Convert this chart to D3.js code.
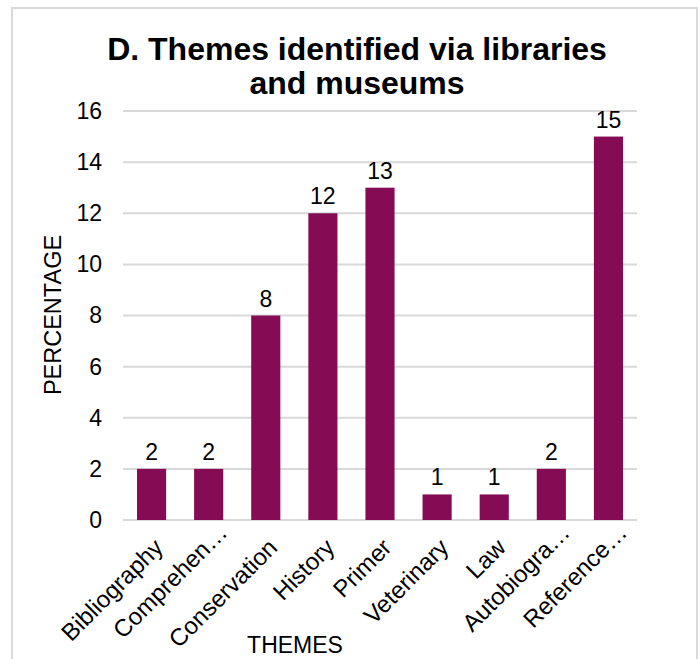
<!DOCTYPE html>
<html>
<head>
<meta charset="utf-8">
<script src="https://cdn.jsdelivr.net/npm/d3@7"></script>
<style>
  html, body { margin: 0; padding: 0; background: #fff; }
  svg { display: block; font-family: "Liberation Sans", Arial, sans-serif; }
</style>
</head>
<body>
<svg id="chart" width="700" height="659"></svg>
<script>
// Themes and their percentages
const categories = ["Bibliography", "Comprehen\u2026", "Conservation", "History", "Primer",
                    "Veterinary", "Law", "Autobiogra\u2026", "Reference\u2026"];
const values = [2, 2, 8, 12, 13, 1, 1, 2, 15];
const yTicks = [0, 2, 4, 6, 8, 10, 12, 14, 16];
const titleLines = ["D. Themes identified via libraries", "and museums"];

const svg = d3.select("#chart");
const W = 700, H = 659;
const margin = { top: 111, right: 63, bottom: 139, left: 123 };
const innerW = W - margin.left - margin.right;
const innerH = H - margin.top - margin.bottom;
const FS = 23;

// chart area frame
svg.append("rect")
  .attr("x", 12).attr("y", 8)
  .attr("width", 685).attr("height", 670)
  .attr("fill", "#fff")
  .attr("stroke", "#d9d9d9").attr("stroke-width", 2);

const x = d3.scaleBand().domain(categories).range([0, innerW])
  .paddingInner(0.49).paddingOuter(0.245);
const y = d3.scaleLinear().domain([0, 16]).range([innerH, 0]);

const g = svg.append("g").attr("transform", `translate(${margin.left},${margin.top})`);

// gridlines
g.append("g")
  .selectAll("line").data(yTicks).join("line")
  .attr("x1", 0).attr("x2", innerW)
  .attr("y1", d => y(d)).attr("y2", d => y(d))
  .attr("stroke", "#d9d9d9").attr("stroke-width", 2);

// y axis labels
const yAxis = d3.axisLeft(y).tickValues(yTicks).tickSize(0).tickPadding(21);
g.append("g").call(yAxis)
  .call(s => s.select(".domain").remove())
  .selectAll("text")
  .attr("font-size", FS).attr("fill", "#000")
  .attr("font-family", "Liberation Sans, Arial, sans-serif");

// bars
g.append("g").selectAll("rect").data(values).join("rect")
  .attr("x", (d, i) => x(categories[i]))
  .attr("y", d => y(d))
  .attr("width", x.bandwidth())
  .attr("height", d => innerH - y(d))
  .attr("fill", "#850b55");

// value labels
g.append("g").selectAll("text").data(values).join("text")
  .attr("x", (d, i) => x(categories[i]) + x.bandwidth() / 2)
  .attr("y", d => y(d) - 9)
  .attr("text-anchor", "middle")
  .attr("font-size", FS).attr("fill", "#000")
  .text(d => d);

// x axis labels, rotated; truncated labels sit a little further out
const xAxis = d3.axisBottom(x).tickSize(0).tickPadding(0);
g.append("g").attr("transform", `translate(0,${innerH})`).call(xAxis)
  .call(s => s.select(".domain").remove())
  .selectAll("text")
  .attr("font-size", 24).attr("fill", "#000")
  .attr("font-family", "Liberation Sans, Arial, sans-serif")
  .attr("text-anchor", "end")
  .attr("y", 0)
  .attr("dy", 0)
  .attr("transform", d => d.endsWith("\u2026")
    ? "translate(20,14) rotate(-45)"
    : "translate(13,29) rotate(-45)");

// title
svg.append("text")
  .attr("x", 357).attr("y", 60)
  .attr("text-anchor", "middle")
  .attr("font-size", 32).attr("font-weight", "bold")
  .selectAll("tspan").data(titleLines).join("tspan")
  .attr("x", 357).attr("dy", (d, i) => i === 0 ? 0 : 34)
  .text(d => d);

// axis titles
svg.append("text")
  .attr("transform", `translate(61,315) rotate(-90)`)
  .attr("text-anchor", "middle")
  .attr("font-size", 23.5)
  .text("PERCENTAGE");

svg.append("text")
  .attr("x", 295).attr("y", 653)
  .attr("text-anchor", "middle")
  .attr("font-size", FS)
  .text("THEMES");
</script>
</body>
</html>
